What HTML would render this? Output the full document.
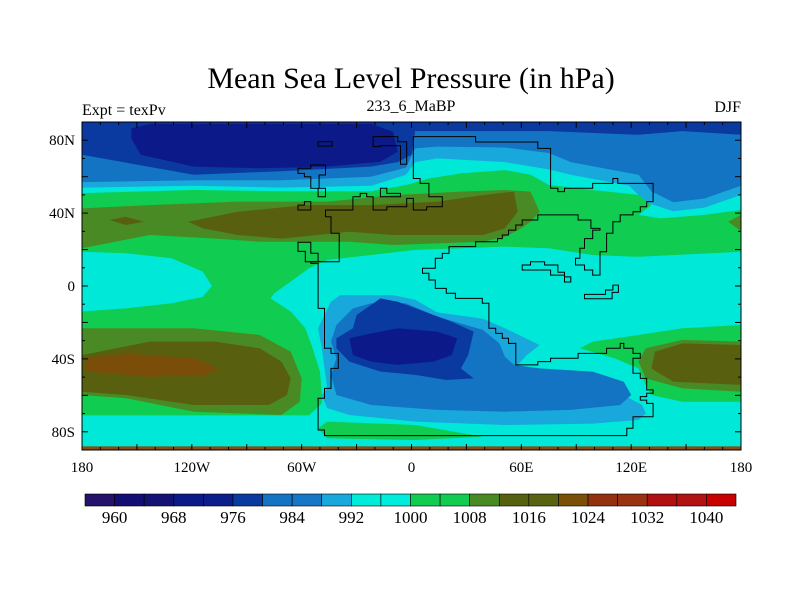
<!DOCTYPE html>
<html><head><meta charset="utf-8"><style>
body{margin:0;background:#fff;width:800px;height:600px;overflow:hidden}
svg text{font-family:"Liberation Serif",serif}
</style></head><body>
<svg id="chart" width="800" height="600" viewBox="0 0 800 600" xmlns="http://www.w3.org/2000/svg">
<text x="411" y="88" text-anchor="middle" font-size="30">Mean Sea Level Pressure (in hPa)</text>
<text x="82" y="115" font-size="16">Expt = texPv</text>
<text x="411" y="111" text-anchor="middle" font-size="16">233_6_MaBP</text>
<text x="741" y="112" text-anchor="end" font-size="16">DJF</text>
<defs><clipPath id="plotclip"><rect x="82" y="122" width="659" height="328"/></clipPath></defs>
<g id="fills" clip-path="url(#plotclip)"></g>
<g id="coast" clip-path="url(#plotclip)"></g>
<g id="axes"></g>
<g id="cbar"></g>
</svg>
<script>
// ---- data ----
const levelColors = ["#26126a","#130e72","#141374","#0b1a88","#0c1d8c","#0a3aa0","#1474c4","#1577c6","#18a8dc","#00ecd8","#00ecdc","#10cc50","#12cc52","#4a8a24","#556010","#586210","#7a5008","#923010","#983212","#b01010","#b31212","#c80000"];
const levelLabels = [960,968,976,984,992,1000,1008,1016,1024,1032,1040];
const lonTicks = [-180,-120,-60,0,60,120,180];
const lonTickLabels = ["180","120W","60W","0","60E","120E","180"];
const latTicks = [80,40,0,-40,-80];
const latTickLabels = ["80N","40N","0","40S","80S"];
const bgColor = "#00e8d8";
const fillLayers = [
 {c:"#18a8dc",p:[[-180,90],[180,90],[180,50],[160,43],[143,41],[128,46],[119,55],[87,61],[75,64],[51,68],[14,70],[2,68],[-3,61],[-22,55],[-71,54],[-119,55],[-180,54]]},
 {c:"#1474c4",p:[[-180,90],[180,90],[180,55],[160,48],[143,46],[131,52],[124,61],[87,68],[75,73],[51,76],[14,76.5],[2,75.5],[-3,65],[-22,60],[-71,58],[-119,58],[-180,57]]},
 {c:"#0a3aa0",p:[[-180,90],[180,90],[180,83],[148,85],[124,83],[75,85],[2,85],[0,72],[-7.5,68],[-22,65.5],[-71,63],[-119,61],[-180,72]]},
 {c:"#0b1a88",p:[[-153,86.5],[-143,89],[-22,89],[-10,84.7],[-7.5,73.7],[-17,68.2],[-46,65.5],[-83,64.6],[-119,65.5],[-148,72],[-153,81]]},
 {c:"#10cc50",p:[[-180,51],[-119,52.7],[-71,52],[-22,52],[-3,55.4],[9.5,59],[27,61.8],[51,63.6],[65,61],[75,55.4],[99,52.7],[124,50],[131,44.4],[124,39],[136,37.1],[160,39],[180,41.7],[180,18.8],[124,16],[99,17],[75,20.7],[51,21.6],[27,20.7],[2,19.8],[-22,17],[-46,14.3],[-56,9.7],[-66,2.4],[-75,-4],[-77,-6.8],[-66,-14],[-58,-23.2],[-54,-34.2],[-50,-47],[-49,-59.8],[-49,-64.4],[-56,-71],[-95,-71],[-143,-71],[-180,-71]]},
 {c:"#00e8d8",p:[[-180,18.8],[-156,18],[-131,15.2],[-114,7.9],[-109,0],[-114,-6],[-131,-9.5],[-156,-12.3],[-180,-14]]},
 {c:"#10cc50",p:[[180,-21.4],[148,-23.2],[124,-26.9],[99,-30.5],[92,-34.2],[111,-39.7],[124,-45.2],[128,-54.3],[131,-59.8],[148,-63.5],[180,-63.5]]},
 {c:"#10cc50",p:[[-51,-78],[-46,-74.4],[2,-76.3],[39,-82.7],[2,-84.5],[-46,-83.6]]},
 {c:"#4a8a24",p:[[-180,42.6],[-143,44.4],[-95,46.3],[-46,46.3],[-10,49.9],[27,51.8],[51,52.7],[65,51.8],[70,40.8],[65,35.3],[60,31.6],[51,27],[39,24.3],[14,23.4],[-10,22.5],[-34,24.3],[-58,24.3],[-83,24.3],[-107,26],[-143,28],[-180,20.7]]},
 {c:"#4a8a24",p:[[180,39],[173,35.3],[180,30]]},
 {c:"#4a8a24",p:[[-180,-23.2],[-119,-23.2],[-83,-26.9],[-66,-36],[-60,-50.7],[-61,-63.5],[-71,-70.8],[-119,-69],[-156,-61.6],[-180,-59.8]]},
 {c:"#4a8a24",p:[[180,-30.5],[148,-29.6],[128,-34.2],[124,-41.5],[128,-50.7],[148,-56.2],[180,-58]]},
 {c:"#586010",p:[[-165,36.2],[-156,38],[-146,35.3],[-156,33.5]]},
 {c:"#586010",p:[[-122,35.3],[-95,40.8],[-58,44.4],[-22,44.4],[14,46.3],[39,49.9],[56,51.8],[58,40.8],[51,31.6],[39,28],[14,28],[-10,28],[-34,29.8],[-71,26],[-95,28],[-114,31.6]]},
 {c:"#586010",p:[[-180,-37.9],[-143,-30.5],[-107,-30.5],[-83,-34.2],[-71,-41.5],[-66,-50.7],[-68,-59.8],[-78,-65.3],[-119,-65.3],[-156,-59.8],[-180,-58]]},
 {c:"#7a4e08",p:[[-178,-39.7],[-156,-37],[-119,-39.7],[-105,-45.2],[-112,-48.8],[-143,-49.8],[-178,-47]]},
 {c:"#586010",p:[[180,-32.4],[148,-31.5],[133,-36],[131,-45.2],[143,-52.5],[180,-54.3]]},
 {c:"#18a8dc",p:[[-34,-5],[-10,-5],[2,-7.5],[14,-14.5],[39,-18],[51,-23.2],[70,-32.4],[63,-37.9],[58,-43.3],[63,-50.7],[75,-52.5],[99,-54.3],[116,-60],[126,-65.3],[128,-70],[124,-73.5],[99,-75.5],[51,-76.3],[2,-74.4],[-34,-70.8],[-46,-67],[-49,-60],[-46,-56.2],[-49,-34.2],[-51,-23.2],[-44,-8.6],[-39,-5]]},
 {c:"#1474c4",p:[[-22,-9.5],[-3,-9.5],[14,-16.8],[39,-24.1],[48,-31.5],[51,-38.8],[56,-43.3],[70,-45.2],[99,-47],[116,-52.5],[120,-59.8],[114,-65.3],[87,-68],[51,-69],[14,-68],[-22,-65.3],[-41,-59.8],[-44,-48.8],[-41,-39.7],[-44,-30.5],[-41,-21.4],[-32,-12.3]]},
 {c:"#0a3aa0",p:[[-30,-15.9],[-17,-6.8],[-7.5,-8.6],[7,-14],[22,-19.6],[34,-25],[31,-37.9],[27,-45.2],[34,-50.7],[19,-51.6],[2,-48.8],[-17,-47],[-34,-41.5],[-41,-34.2],[-41,-28.7],[-32,-23.2]]},
 {c:"#0b1a88",p:[[-34,-28.7],[-22,-26],[-7.5,-23.2],[14,-25],[25,-28.7],[22,-37.9],[12,-41.5],[-7.5,-43.3],[-22,-41.5],[-32,-37.9]]},
 {c:"#8a4a10",p:[[-180,-88],[180,-88],[180,-91],[-180,-91]]}
];
const coastlines = [
 [[1,82],[35,82],[35,79],[69,79],[69,75.5],[76,75.5],[76,53.6],[80,53.6],[80,51.8],[83.6,51.8],[83.6,53.6],[99,53.6],[99,56.3],[110,56.3],[110,59],[112.7,59],[112.7,56.3],[132,56.3],[132,46.3],[128.5,46.3],[128.5,43.5],[125,43.5],[125,40.8],[121,40.8],[121,39],[114,39],[114,35.3],[110,35.3],[110,29],[106.6,29],[106.6,18.8],[103,18.8],[103,6],[99,6],[99,8.8],[94.5,8.8],[94.5,11.5],[89.6,11.5],[89.6,15.2],[92,15.2],[92,20.7],[94.5,20.7],[94.5,26],[99,26],[99,30.7],[103,30.7],[103,31.6],[98,31.6],[98,36.2],[91,36.2],[91,39],[69,39],[69,36.2],[60.5,36.2],[60.5,33.5],[57,33.5],[57,30.7],[53,30.7],[53,28],[49.6,28],[49.6,26],[47,26],[47,24.3],[35,24.3],[35,21.6],[20.5,21.6],[20.5,17.9],[16.8,17.9],[16.8,15.2],[13,15.2],[13,9.7],[6,9.7],[6,7],[9.5,7],[9.5,3.3],[13,3.3],[13,-1.3],[19,-1.3],[19,-4],[24,-4],[24,-6.8],[38.7,-6.8],[38.7,-9.5],[42.3,-9.5],[42.3,-23.2],[46,-23.2],[46,-26],[49.6,-26],[49.6,-28.7],[53,-28.7],[53,-31.5],[57,-31.5],[57,-43.3],[69,-43.3],[69,-41.5],[76,-41.5],[76,-39.7],[91,-39.7],[91,-37],[106.6,-37],[106.6,-34.2],[114,-34.2],[114,-31.5],[116,-31.5],[116,-34.2],[121,-34.2],[121,-37],[125,-37],[125,-39.7],[121,-39.7],[121,-47.9],[125,-47.9],[125,-50.7],[128.5,-50.7],[128.5,-57],[132,-57],[132,-58.9],[128.5,-58.9],[128.5,-60.7],[125,-60.7],[125,-62.6],[128.5,-62.6],[128.5,-64.4],[132,-64.4],[132,-71.7],[121,-71.7],[121,-78.1],[117.6,-78.1],[117.6,-82.1],[-47.5,-82.1],[-47.5,-79],[-51,-79],[-51,-61.6],[-47.5,-61.6],[-47.5,-56.2],[-44,-56.2],[-44,-45.2],[-40,-45.2],[-40,-37],[-44,-37],[-44,-34.2],[-47.5,-34.2],[-47.5,-12.3],[-51,-12.3],[-51,12.4],[-55,12.4],[-55,13.3],[-39.5,13.3],[-39.5,28.9],[-44,28.9],[-44,38],[-47,38],[-47,41.7],[-32,41.7],[-32,49],[-28,49],[-28,50.8],[-24.5,50.8],[-24.5,49],[-21,49],[-21,41.7],[-13.5,41.7],[-13.5,43.5],[-2.6,43.5],[-2.6,48.1],[1,48.1],[1,41.7],[8.3,41.7],[8.3,43.5],[16.8,43.5],[16.8,49],[9.5,49],[9.5,56.3],[4.7,56.3],[4.7,59],[1,59]],
 [[-62,24],[-55,24],[-55,18],[-51,18],[-51,13.3],[-58,13.3],[-58,19],[-62,19]],
 [[-62,64.6],[-55,64.6],[-55,66.4],[-47,66.4],[-47,60.9],[-50.5,60.9],[-50.5,53.6],[-47,53.6],[-47,49],[-51,49],[-51,53.6],[-55,53.6],[-55,60],[-58.5,60],[-58.5,61.8],[-62,61.8]],
 [[-62,44.4],[-58.5,44.4],[-58.5,46.3],[-55,46.3],[-55,41.7],[-62,41.7]],
 [[-51,79.2],[-43.4,79.2],[-43.4,76.8],[-51,76.8]],
 [[-21,82],[-7.5,82],[-7.5,79.2],[-2.6,79.2],[-2.6,66.8],[-6,66.8],[-6,77],[-17,77],[-17,76.5],[-21,76.5]],
 [[-17,53.6],[-13.5,53.6],[-13.5,50.8],[-6,50.8],[-6,49],[-17,49]],
 [[60.5,11.5],[65,11.5],[65,13.3],[72.7,13.3],[72.7,11.5],[80,11.5],[80,7.5],[83.6,7.5],[83.6,2.2],[87,2.2],[87,5],[83.6,5],[83.6,6],[76,6],[76,8.8],[60.5,8.8]],
 [[94.5,-4.6],[106,-4.6],[106,-2.2],[110,-2.2],[110,0.5],[113,0.5],[113,-3.5],[109.6,-3.5],[109.6,-7],[94.5,-7]]
];
// ---- axis functions ----
const X0=82,X1=741,Y0=122,Y1=450;
const xs = lon => X0 + (lon+180)*(X1-X0)/360;
const ys = lat => Y0 + (90-lat)*(Y1-Y0)/180;
const NS="http://www.w3.org/2000/svg";
function mk(tag, attrs, parent){const e=document.createElementNS(NS,tag);for(const k in attrs)e.setAttribute(k,attrs[k]);parent.appendChild(e);return e;}
const pts = p => p.map(q=>xs(q[0]).toFixed(1)+","+ys(q[1]).toFixed(1)).join(" ");
const fills=document.getElementById("fills");
const bg=mk("rect",{x:X0,y:Y0,width:X1-X0,height:Y1-Y0,fill:bgColor},fills);


fillLayers.forEach((L,i)=>{
 const e=mk("polygon",{points:pts(L.p),fill:L.c},fills);
 
 
});
const coast=document.getElementById("coast");
coastlines.forEach((c,i)=>{
 const e=mk("polygon",{points:pts(c),fill:"none",stroke:"#000","stroke-width":1},coast);
 
 
});
const ax=document.getElementById("axes");
const fr=mk("rect",{x:X0,y:Y0,width:X1-X0,height:Y1-Y0,fill:"none",stroke:"#000","stroke-width":1},ax);


for(let lon=-180;lon<=180;lon+=10){
 const L=(lon%30===0)?6:3;
 mk("line",{x1:xs(lon),x2:xs(lon),y1:Y1,y2:Y1-L,stroke:"#000"},ax);
 mk("line",{x1:xs(lon),x2:xs(lon),y1:Y0,y2:Y0+L,stroke:"#000"},ax);
}
for(let lat=-90;lat<=90;lat+=10){
 const L=(lat%20===0)?6:3;
 mk("line",{x1:X0,x2:X0+L,y1:ys(lat),y2:ys(lat),stroke:"#000"},ax);
 mk("line",{x1:X1,x2:X1-L,y1:ys(lat),y2:ys(lat),stroke:"#000"},ax);
}
lonTicks.forEach((v,i)=>{
 const t=mk("text",{x:xs(v),y:472,"text-anchor":"middle","font-size":15},ax);
 t.textContent=lonTickLabels[i];
 
 
});
latTicks.forEach((v,i)=>{
 const t=mk("text",{x:75,y:ys(v)+5,"text-anchor":"end","font-size":15},ax);
 t.textContent=latTickLabels[i];
 
 
});
// colorbar
const cb=document.getElementById("cbar");
const CB0=85,CB1=736,CBY=494,CBH=12;
const bw=(CB1-CB0)/levelColors.length;
levelColors.forEach((c,i)=>{
 const r=mk("rect",{x:CB0+i*bw,y:CBY,width:bw,height:CBH,fill:c,stroke:"#000","stroke-width":0.6},cb);
 
 
});
levelLabels.forEach((v,i)=>{
 const t=mk("text",{x:CB0+(1+2*i)*bw,y:523,"text-anchor":"middle","font-size":17},cb);
 t.textContent=v;
 
 
});
</script>
</body></html>
